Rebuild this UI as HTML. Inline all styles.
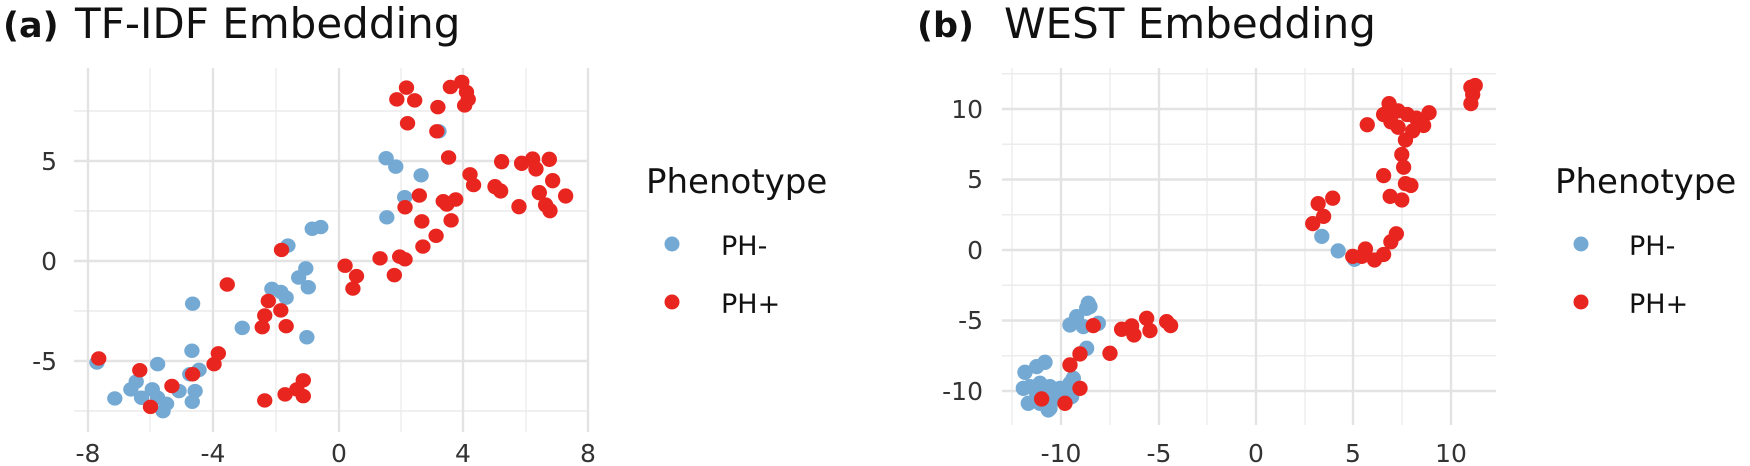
<!DOCTYPE html>
<html><head><meta charset="utf-8"><style>
html,body{margin:0;padding:0;background:#fff}
svg{display:block}
text{font-family:"DejaVu Sans","Liberation Sans",sans-serif}
.tk{font-size:25px;fill:#333}
.mj{stroke:#e3e3e3;stroke-width:2.4}
.mn{stroke:#ececec;stroke-width:1.4}
.b{fill:#74a9d4}
.r{fill:#e8251f}
</style></head><body>
<svg width="1750" height="466" viewBox="0 0 1750 466" xmlns="http://www.w3.org/2000/svg">
<g>
<line class="mn" x1="74" x2="588" y1="411" y2="411"/><line class="mn" x1="74" x2="588" y1="311" y2="311"/><line class="mn" x1="74" x2="588" y1="211" y2="211"/><line class="mn" x1="74" x2="588" y1="111" y2="111"/>
<line class="mn" x1="150" x2="150" y1="68" y2="432"/><line class="mn" x1="276" x2="276" y1="68" y2="432"/><line class="mn" x1="401" x2="401" y1="68" y2="432"/><line class="mn" x1="526" x2="526" y1="68" y2="432"/>
<line class="mj" x1="74" x2="588" y1="361" y2="361"/><line class="mj" x1="74" x2="588" y1="261" y2="261"/><line class="mj" x1="74" x2="588" y1="161" y2="161"/>
<line class="mj" x1="88" x2="88" y1="68" y2="432"/><line class="mj" x1="213" x2="213" y1="68" y2="432"/><line class="mj" x1="339" x2="339" y1="68" y2="432"/><line class="mj" x1="463" x2="463" y1="68" y2="432"/><line class="mj" x1="588" x2="588" y1="68" y2="432"/>
</g>
<g class="tk" text-anchor="end">
<text x="57" y="170">5</text><text x="57" y="270">0</text><text x="57" y="370">-5</text>
</g>
<g class="tk" text-anchor="middle">
<text x="88" y="462">-8</text><text x="213" y="462">-4</text><text x="339" y="462">0</text><text x="463" y="462">4</text><text x="588" y="462">8</text>
</g>
<g transform="matrix(0.357 0 0 0.336 0.56 58.4)">
<g class="b">
<circle cx="1080" cy="297" r="21.5"/><circle cx="1107" cy="322" r="21.5"/><circle cx="1178" cy="348" r="21.5"/><circle cx="1132" cy="413" r="21.5"/><circle cx="1082" cy="473" r="21.5"/><circle cx="873" cy="507" r="21.5"/><circle cx="897" cy="502" r="21.5"/><circle cx="805" cy="557" r="21.5"/><circle cx="855" cy="625" r="21.5"/><circle cx="835" cy="652" r="21.5"/><circle cx="862" cy="681" r="21.5"/><circle cx="760" cy="686" r="21.5"/><circle cx="785" cy="695" r="21.5"/><circle cx="800" cy="712" r="21.5"/><circle cx="538" cy="730" r="21.5"/><circle cx="677" cy="802" r="21.5"/><circle cx="858" cy="830" r="21.5"/><circle cx="536" cy="870" r="21.5"/><circle cx="440" cy="910" r="21.5"/><circle cx="556" cy="927" r="21.5"/><circle cx="530" cy="940" r="21.5"/><circle cx="380" cy="962" r="21.5"/><circle cx="365" cy="985" r="21.5"/><circle cx="425" cy="985" r="21.5"/><circle cx="500" cy="990" r="21.5"/><circle cx="545" cy="990" r="21.5"/><circle cx="320" cy="1012" r="21.5"/><circle cx="395" cy="1010" r="21.5"/><circle cx="440" cy="1010" r="21.5"/><circle cx="465" cy="1028" r="21.5"/><circle cx="455" cy="1050" r="21.5"/><circle cx="537" cy="1022" r="21.5"/><circle cx="270" cy="905" r="21.5"/><circle cx="1228" cy="217" r="21.5"/>
</g>
<g class="r">
<circle cx="1137" cy="87" r="21.5"/><circle cx="1110" cy="122" r="21.5"/><circle cx="1160" cy="125" r="21.5"/><circle cx="1225" cy="145" r="21.5"/><circle cx="1260" cy="85" r="21.5"/><circle cx="1292" cy="70" r="21.5"/><circle cx="1305" cy="100" r="21.5"/><circle cx="1310" cy="122" r="21.5"/><circle cx="1300" cy="140" r="21.5"/><circle cx="1140" cy="193" r="21.5"/><circle cx="1222" cy="217" r="21.5"/><circle cx="1255" cy="295" r="21.5"/><circle cx="1315" cy="345" r="21.5"/><circle cx="1325" cy="377" r="21.5"/><circle cx="1173" cy="408" r="21.5"/><circle cx="1133" cy="443" r="21.5"/><circle cx="1240" cy="425" r="21.5"/><circle cx="1275" cy="420" r="21.5"/><circle cx="1250" cy="435" r="21.5"/><circle cx="1180" cy="485" r="21.5"/><circle cx="1262" cy="482" r="21.5"/><circle cx="1220" cy="528" r="21.5"/><circle cx="1183" cy="560" r="21.5"/><circle cx="1063" cy="595" r="21.5"/><circle cx="1118" cy="590" r="21.5"/><circle cx="1133" cy="598" r="21.5"/><circle cx="1103" cy="645" r="21.5"/><circle cx="965" cy="617" r="21.5"/><circle cx="997" cy="648" r="21.5"/><circle cx="987" cy="685" r="21.5"/><circle cx="787" cy="570" r="21.5"/><circle cx="635" cy="673" r="21.5"/><circle cx="750" cy="722" r="21.5"/><circle cx="785" cy="750" r="21.5"/><circle cx="740" cy="765" r="21.5"/><circle cx="733" cy="800" r="21.5"/><circle cx="800" cy="797" r="21.5"/><circle cx="390" cy="928" r="21.5"/><circle cx="480" cy="975" r="21.5"/><circle cx="538" cy="940" r="21.5"/><circle cx="598" cy="910" r="21.5"/><circle cx="610" cy="878" r="21.5"/><circle cx="275" cy="893" r="21.5"/><circle cx="420" cy="1037" r="21.5"/><circle cx="740" cy="1018" r="21.5"/><circle cx="797" cy="1000" r="21.5"/><circle cx="830" cy="985" r="21.5"/><circle cx="848" cy="958" r="21.5"/><circle cx="848" cy="1005" r="21.5"/>
</g>
</g>
<g transform="translate(300 60) scale(0.3333)" class="r">
<circle cx="605" cy="305" r="23"/><circle cx="665" cy="310" r="23"/><circle cx="698" cy="297" r="23"/><circle cx="708" cy="327" r="23"/><circle cx="748" cy="298" r="23"/><circle cx="758" cy="362" r="23"/><circle cx="718" cy="398" r="23"/><circle cx="797" cy="408" r="23"/><circle cx="737" cy="435" r="23"/><circle cx="750" cy="452" r="23"/><circle cx="657" cy="440" r="23"/><circle cx="585" cy="380" r="23"/><circle cx="602" cy="393" r="23"/>
</g>
<text x="3" y="37" font-size="35" font-weight="bold" fill="#111">(a)</text>
<text x="75" y="38" font-size="42" fill="#111">TF-IDF Embedding</text>
<text x="646" y="193" font-size="34" fill="#111">Phenotype</text>
<circle cx="672" cy="244" r="7.5" class="b"/><circle cx="672" cy="302" r="7.5" class="r"/>
<text x="721" y="255" font-size="27" fill="#111">PH-</text>
<text x="721" y="313" font-size="27" fill="#111">PH+</text>

<g>
<line class="mn" x1="1002" x2="1496" y1="355.75" y2="355.75"/><line class="mn" x1="1002" x2="1496" y1="285.25" y2="285.25"/><line class="mn" x1="1002" x2="1496" y1="214.75" y2="214.75"/><line class="mn" x1="1002" x2="1496" y1="144.25" y2="144.25"/><line class="mn" x1="1002" x2="1496" y1="73.75" y2="73.75"/>
<line class="mn" x1="1012" x2="1012" y1="68" y2="425"/><line class="mn" x1="1110" x2="1110" y1="68" y2="425"/><line class="mn" x1="1207" x2="1207" y1="68" y2="425"/><line class="mn" x1="1305" x2="1305" y1="68" y2="425"/><line class="mn" x1="1402" x2="1402" y1="68" y2="425"/>
<line class="mj" x1="1002" x2="1496" y1="391" y2="391"/><line class="mj" x1="1002" x2="1496" y1="320.5" y2="320.5"/><line class="mj" x1="1002" x2="1496" y1="250" y2="250"/><line class="mj" x1="1002" x2="1496" y1="179.5" y2="179.5"/><line class="mj" x1="1002" x2="1496" y1="109" y2="109"/>
<line class="mj" x1="1061" x2="1061" y1="68" y2="425"/><line class="mj" x1="1159" x2="1159" y1="68" y2="425"/><line class="mj" x1="1256" x2="1256" y1="68" y2="425"/><line class="mj" x1="1353" x2="1353" y1="68" y2="425"/><line class="mj" x1="1451" x2="1451" y1="68" y2="425"/>
</g>
<g class="tk" text-anchor="end">
<text x="983" y="118">10</text><text x="983" y="188">5</text><text x="983" y="259">0</text><text x="983" y="329">-5</text><text x="983" y="400">-10</text>
</g>
<g class="tk" text-anchor="middle">
<text x="1061" y="462">-10</text><text x="1159" y="462">-5</text><text x="1256" y="462">0</text><text x="1353" y="462">5</text><text x="1451" y="462">10</text>
</g>
<g transform="translate(820 50) scale(0.3333)">
<g class="b">
<circle cx="805" cy="760" r="23"/><circle cx="810" cy="770" r="23"/><circle cx="800" cy="775" r="23"/><circle cx="770" cy="800" r="23"/><circle cx="750" cy="825" r="23"/><circle cx="790" cy="830" r="23"/><circle cx="835" cy="820" r="23"/><circle cx="800" cy="895" r="23"/><circle cx="675" cy="937" r="23"/><circle cx="650" cy="950" r="23"/><circle cx="615" cy="967" r="23"/><circle cx="610" cy="1015" r="23"/><circle cx="630" cy="1010" r="23"/><circle cx="660" cy="1000" r="23"/><circle cx="690" cy="1010" r="23"/><circle cx="720" cy="1015" r="23"/><circle cx="750" cy="1000" r="23"/><circle cx="760" cy="985" r="23"/><circle cx="625" cy="1060" r="23"/><circle cx="660" cy="1060" r="23"/><circle cx="690" cy="1075" r="23"/><circle cx="685" cy="1080" r="23"/><circle cx="700" cy="1050" r="23"/><circle cx="755" cy="1040" r="23"/><circle cx="650" cy="1030" r="23"/><circle cx="740" cy="1030" r="23"/>
</g>
<g class="r">
<circle cx="820" cy="827" r="23"/><circle cx="905" cy="838" r="23"/><circle cx="935" cy="828" r="23"/><circle cx="942" cy="855" r="23"/><circle cx="980" cy="805" r="23"/><circle cx="990" cy="842" r="23"/><circle cx="1040" cy="815" r="23"/><circle cx="1052" cy="827" r="23"/><circle cx="870" cy="910" r="23"/><circle cx="780" cy="912" r="23"/><circle cx="750" cy="945" r="23"/><circle cx="780" cy="1015" r="23"/><circle cx="665" cy="1047" r="23"/><circle cx="735" cy="1060" r="23"/>
</g>
</g>
<g transform="translate(1180 60) scale(0.3636)">
<g class="b">
<circle cx="390" cy="485" r="21"/><circle cx="435" cy="525" r="21"/><circle cx="480" cy="548" r="21"/>
</g>
<g class="r">
<circle cx="800" cy="75" r="21"/><circle cx="812" cy="70" r="21"/><circle cx="805" cy="95" r="21"/><circle cx="800" cy="120" r="21"/><circle cx="575" cy="120" r="21"/><circle cx="560" cy="150" r="21"/><circle cx="515" cy="178" r="21"/><circle cx="600" cy="140" r="21"/><circle cx="625" cy="150" r="21"/><circle cx="650" cy="160" r="21"/><circle cx="685" cy="145" r="21"/><circle cx="670" cy="180" r="21"/><circle cx="600" cy="185" r="21"/><circle cx="640" cy="195" r="21"/><circle cx="620" cy="220" r="21"/><circle cx="580" cy="170" r="21"/><circle cx="610" cy="260" r="21"/><circle cx="615" cy="295" r="21"/><circle cx="560" cy="318" r="21"/><circle cx="620" cy="340" r="21"/><circle cx="635" cy="345" r="21"/><circle cx="578" cy="375" r="21"/><circle cx="610" cy="385" r="21"/><circle cx="380" cy="395" r="21"/><circle cx="420" cy="380" r="21"/><circle cx="395" cy="430" r="21"/><circle cx="365" cy="450" r="21"/><circle cx="475" cy="540" r="21"/><circle cx="510" cy="520" r="21"/><circle cx="535" cy="550" r="21"/><circle cx="560" cy="535" r="21"/><circle cx="580" cy="500" r="21"/><circle cx="595" cy="478" r="21"/><circle cx="500" cy="540" r="21"/>
</g>
</g>
<text x="917" y="37" font-size="35" font-weight="bold" fill="#111">(b)</text>
<text x="1004" y="38" font-size="42" fill="#111">WEST Embedding</text>
<text x="1555" y="193" font-size="34" fill="#111">Phenotype</text>
<circle cx="1581" cy="244" r="7.5" class="b"/><circle cx="1581" cy="302" r="7.5" class="r"/>
<text x="1629" y="255" font-size="27" fill="#111">PH-</text>
<text x="1629" y="313" font-size="27" fill="#111">PH+</text>
</svg>
</body></html>
